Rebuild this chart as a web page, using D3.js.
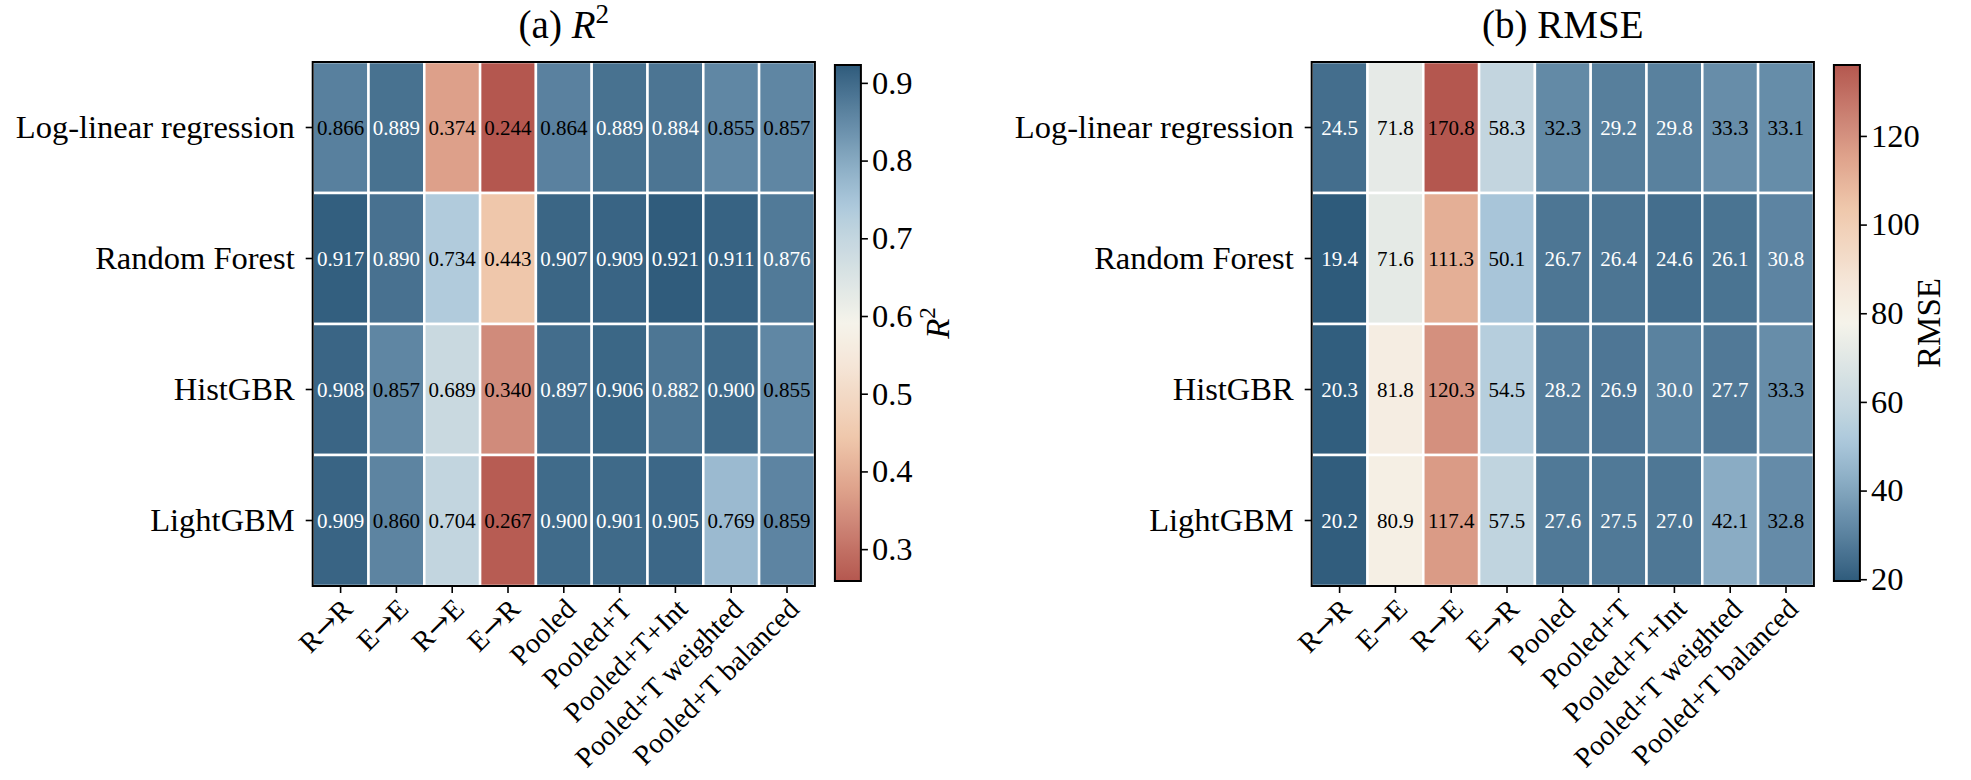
<!DOCTYPE html>
<html lang="en">
<head>
    <meta charset="UTF-8">
    <title>R2 and RMSE heatmaps</title>
    <script src="https://d3js.org/d3.v7.min.js"></script>
    <style>
        body { margin: 0; background: #fff; }
        svg text { font-family: "Liberation Serif", "Times New Roman", serif; fill: #000; }
        .frame { fill: none; stroke: #000; stroke-width: 2px; }
        .cell { stroke: #fff; stroke-width: 2.5px; }
        .axis path { display: none; }
        .axis line { stroke: #000; stroke-width: 1.6px; }
        .axis text { font-size: 32.5px; }
        .xaxis text { font-size: 28.5px; }
        .arrow { font-family: "DejaVu Serif", serif; }
        .anno { font-size: 21px; text-anchor: middle; dominant-baseline: central; }
    </style>
</head>
<body>
    <script>
        // Data
        const models = ["Log-linear regression", "Random Forest", "HistGBR", "LightGBM"];
        const settings = ["R\u2192R", "E\u2192E", "R\u2192E", "E\u2192R", "Pooled", "Pooled+T",
                          "Pooled+T+Int", "Pooled+T weighted", "Pooled+T balanced"];
        const r2Values = [
            [0.866, 0.889, 0.374, 0.244, 0.864, 0.889, 0.884, 0.855, 0.857],
            [0.917, 0.890, 0.734, 0.443, 0.907, 0.909, 0.921, 0.911, 0.876],
            [0.908, 0.857, 0.689, 0.340, 0.897, 0.906, 0.882, 0.900, 0.855],
            [0.909, 0.860, 0.704, 0.267, 0.900, 0.901, 0.905, 0.769, 0.859]
        ];
        const rmseValues = [
            [24.5, 71.8, 170.8, 58.3, 32.3, 29.2, 29.8, 33.3, 33.1],
            [19.4, 71.6, 111.3, 50.1, 26.7, 26.4, 24.6, 26.1, 30.8],
            [20.3, 81.8, 120.3, 54.5, 28.2, 26.9, 30.0, 27.7, 33.3],
            [20.2, 80.9, 117.4, 57.5, 27.6, 27.5, 27.0, 42.1, 32.8]
        ];
        const r2Range = [0.259, 0.923];
        const rmseRange = [19.6, 136];
        const r2Ticks = [0.3, 0.4, 0.5, 0.6, 0.7, 0.8, 0.9];
        const rmseTicks = [20, 40, 60, 80, 100, 120];

        // diverging colormap: 0 = red end, 1 = blue end
        const cmapStops = [0, 0.12, 0.18, 0.28, 0.42, 0.5, 0.56, 0.67, 0.73, 0.8, 0.9, 0.96, 1];
        const cmapColors = ["#b4574f", "#d08a7a", "#dfa38c", "#efc8ac", "#f5e6d8", "#f5f3ea",
                            "#e3e9e6", "#c2d5df", "#abc8db", "#8dafc6", "#5f86a3", "#436d8c", "#2e5b7b"];
        const cmap = d3.scaleLinear().domain(cmapStops).range(cmapColors)
            .interpolate(d3.interpolateRgb).clamp(true);

        const width = 1971, height = 780;
        const gridTop = 62, cellW = 55.8, cellH = 131;
        const gridW = cellW * settings.length, gridH = cellH * models.length;

        const svg = d3.select("body").append("svg")
            .attr("width", width)
            .attr("height", height);

        const panels = [
            {
                id: "r2", left: 312.7, values: r2Values, range: r2Range, ticks: r2Ticks,
                t: d3.scaleLinear().domain(r2Range).range([0, 1]).clamp(true),
                fmt: d3.format(".3f"), white: v => v > 0.87,
                tickFmt: d3.format(".1f"), title: "(a) ", titleMath: true, label: "R2", labelOff: 88
            },
            {
                id: "rmse", left: 1311.7, values: rmseValues, range: rmseRange, ticks: rmseTicks,
                t: d3.scaleLinear().domain(rmseRange).range([1, 0]).clamp(true),
                fmt: d3.format(".1f"), white: v => v < 31.5,
                tickFmt: d3.format("d"), title: "(b) RMSE", titleMath: false, label: "RMSE", labelOff: 80
            }
        ];

        const defs = svg.append("defs");

        panels.forEach(p => {
            const x = d3.scaleBand().domain(settings).range([0, gridW]);
            const y = d3.scaleBand().domain(models).range([0, gridH]);
            const g = svg.append("g").attr("transform", `translate(${p.left},${gridTop})`);

            const cells = [];
            p.values.forEach((row, i) => row.forEach((v, j) => cells.push({ m: models[i], s: settings[j], v })));

            g.selectAll(".cell")
                .data(cells)
                .join("rect")
                .attr("class", "cell")
                .attr("x", d => x(d.s))
                .attr("y", d => y(d.m))
                .attr("width", x.bandwidth())
                .attr("height", y.bandwidth())
                .attr("fill", d => cmap(p.t(d.v)));

            g.selectAll(".anno")
                .data(cells)
                .join("text")
                .attr("class", "anno")
                .attr("x", d => x(d.s) + x.bandwidth() / 2)
                .attr("y", d => y(d.m) + y.bandwidth() / 2)
                .style("fill", d => p.white(d.v) ? "#fff" : "#000")
                .text(d => p.fmt(d.v));

            g.append("rect").attr("class", "frame")
                .attr("width", gridW).attr("height", gridH);

            // y axis (model names)
            g.append("g").attr("class", "axis")
                .call(d3.axisLeft(y).tickSize(7).tickPadding(11))
                .selectAll("text").attr("dy", "0.32em");

            // x axis (settings), labels rotated about their top-right corner
            const xLabels = g.append("g").attr("class", "axis xaxis")
                .attr("transform", `translate(0,${gridH})`)
                .call(d3.axisBottom(x).tickSize(7))
                .selectAll("text")
                .attr("y", 0).attr("dy", "0.68em")
                .attr("text-anchor", "end")
                .attr("transform", "translate(0,11) rotate(-45)");
            // draw the arrow glyph with a font that has a long arrow
            xLabels.each(function (d) {
                if (!d.includes("\u2192")) return;
                const el = d3.select(this).text(null);
                d.split("\u2192").forEach((part, k) => {
                    if (k > 0) el.append("tspan").attr("class", "arrow").text("\u2192");
                    el.append("tspan").text(part);
                });
            });

            // title
            const title = g.append("text")
                .attr("x", gridW / 2).attr("y", -24)
                .attr("text-anchor", "middle")
                .style("font-size", "39px");
            if (p.titleMath) {
                title.append("tspan").text(p.title);
                title.append("tspan").style("font-style", "italic").text("R");
                title.append("tspan").attr("dy", -15).style("font-size", "27px").text("2");
            } else {
                title.text(p.title);
            }

            // colorbar
            const cbX = gridW + 20, cbW = 26, cbTop = 3, cbH = gridH - 8;
            const grad = defs.append("linearGradient").attr("id", "grad-" + p.id)
                .attr("x1", 0).attr("x2", 0).attr("y1", 0).attr("y2", 1);
            const cbScale = d3.scaleLinear().domain(p.range).range([cbH, 0]);
            d3.range(0, 1.0001, 0.02).forEach(f => {
                const v = cbScale.invert(f * cbH);
                grad.append("stop").attr("offset", f).attr("stop-color", cmap(p.t(v)));
            });
            const cb = g.append("g").attr("transform", `translate(${cbX},${cbTop})`);
            cb.append("rect").attr("width", cbW).attr("height", cbH)
                .attr("fill", `url(#grad-${p.id})`);
            cb.append("rect").attr("class", "frame").attr("width", cbW).attr("height", cbH);
            cb.append("g").attr("class", "axis")
                .attr("transform", `translate(${cbW},0)`)
                .call(d3.axisRight(cbScale).tickValues(p.ticks).tickFormat(p.tickFmt)
                    .tickSize(7).tickPadding(4));

            const lab = cb.append("text")
                .attr("transform", `translate(${cbW + p.labelOff},${cbH / 2}) rotate(-90)`)
                .attr("text-anchor", "middle")
                .style("font-size", "33px");
            if (p.label === "R2") {
                lab.append("tspan").style("font-style", "italic").text("R");
                lab.append("tspan").attr("dy", -14).style("font-size", "23px").text("2");
            } else {
                lab.text(p.label);
            }
        });
    </script>
</body>
</html>
